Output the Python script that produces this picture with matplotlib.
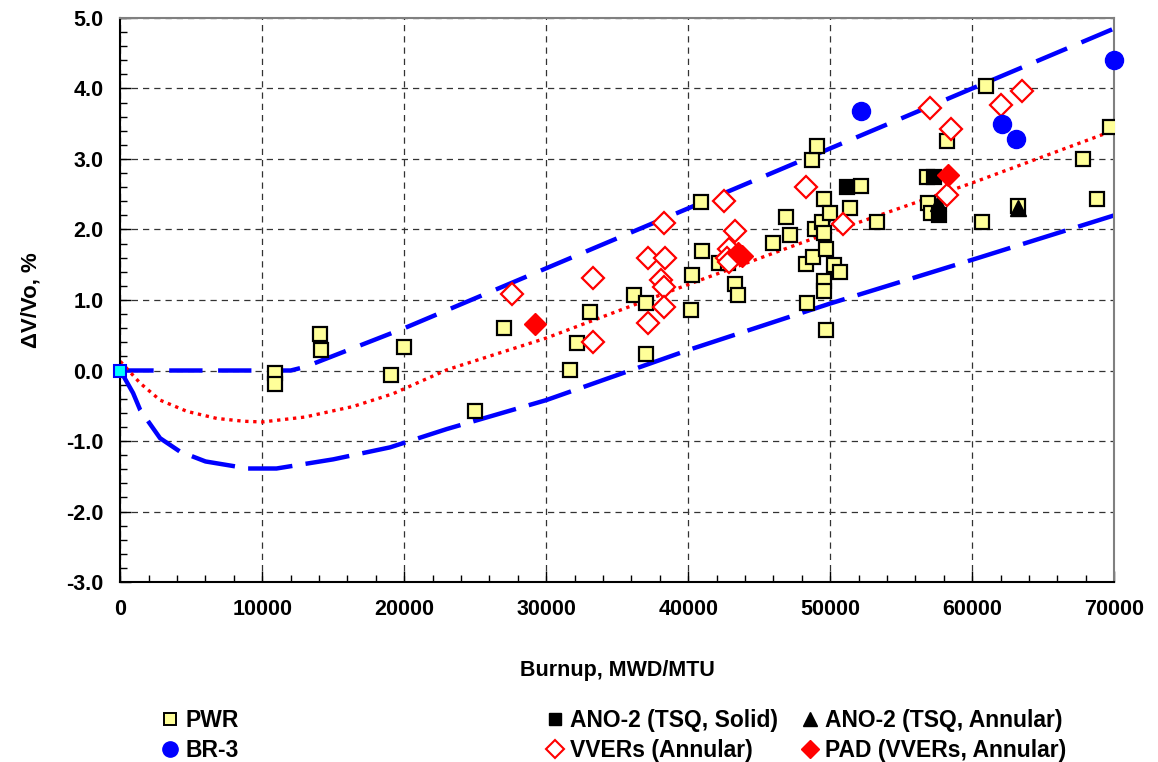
import numpy as np
import matplotlib
matplotlib.use("Agg")
import matplotlib.pyplot as plt
from matplotlib.lines import Line2D
from matplotlib.ticker import MultipleLocator, FuncFormatter

plt.rcParams['font.family'] = ['Liberation Sans', 'DejaVu Sans']

# Measured fuel swelling, burnup (MWD/MTU) vs volume change (%)
pwr_x = [10900, 10900, 14050, 14150, 19100, 20000, 25000, 27000, 31700, 32200,
         33100, 36200, 37000, 37000, 40300, 40200, 40900, 41000, 42200, 42800,
         43300, 43500, 46000, 46900, 47200, 48300, 48400, 48700, 48800, 48900,
         49100, 49400, 49600, 49600, 49700, 49600, 49600, 49700, 50000, 50300,
         50700, 51400, 52200, 53300, 56800, 56900, 57100, 58200, 60700, 61000,
         63200, 67800, 68800, 69700]
pwr_y = [-0.03, -0.19, 0.52, 0.29, -0.07, 0.34, -0.58, 0.60, 0.01, 0.39,
         0.83, 1.07, 0.96, 0.24, 1.35, 0.86, 2.39, 1.69, 1.52, 1.52,
         1.23, 1.07, 1.81, 2.18, 1.92, 1.51, 0.96, 2.98, 1.61, 2.00,
         3.18, 2.11, 2.43, 1.95, 1.72, 1.27, 1.13, 0.57, 2.23, 1.50,
         1.40, 2.31, 2.62, 2.10, 2.74, 2.37, 2.23, 3.26, 2.10, 4.03,
         2.33, 3.00, 2.43, 3.46]

br3_x = [52200, 62100, 63100, 70000]
br3_y = [3.68, 3.49, 3.28, 4.40]

ano_solid_x = [51200, 57300, 57700]
ano_solid_y = [2.60, 2.74, 2.20]

ano_annular_x = [57600, 63200]
ano_annular_y = [2.37, 2.30]

vver_x = [27600, 33300, 33300, 37200, 37200, 38300, 38400, 38100, 38300, 38300,
          42500, 43300, 42900, 42700, 42900, 48300, 50900, 57000, 58200, 58500,
          62000, 63500]
vver_y = [1.08, 1.31, 0.40, 1.59, 0.68, 2.09, 1.59, 1.29, 1.18, 0.90,
          2.40, 1.98, 1.73, 1.60, 1.54, 2.60, 2.08, 3.73, 2.49, 3.43,
          3.76, 3.96]

pad_x = [29200, 43500, 43800, 58300]
pad_y = [0.66, 1.67, 1.62, 2.77]

# Upper / lower bounds and best-fit curve
upper_x = [0, 12000, 13000, 20000, 30000, 40000, 70000]
upper_y = [0.0, 0.0, 0.05, 0.60, 1.45, 2.30, 4.85]

lower_x = [0, 900, 1400, 2800, 4200, 6000, 9000, 11000, 15000, 19000, 23000,
           30000, 40000, 50000, 60000, 70000]
lower_y = [0.0, -0.32, -0.56, -0.96, -1.15, -1.29, -1.39, -1.39, -1.26, -1.09,
           -0.83, -0.42, 0.29, 0.95, 1.57, 2.20]

fit_x = [0, 1400, 2800, 4700, 6800, 8700, 10000, 13000, 16400, 19200, 23000,
         30000, 40000, 50000, 60000, 69500]
fit_y = [0.13, -0.18, -0.42, -0.58, -0.68, -0.72, -0.73, -0.66, -0.51, -0.33,
         0.01, 0.46, 1.22, 1.96, 2.66, 3.37]

x_ticks = [0, 10000, 20000, 30000, 40000, 50000, 60000, 70000]
y_ticks = [-3.0, -2.0, -1.0, 0.0, 1.0, 2.0, 3.0, 4.0, 5.0]

fig = plt.figure(figsize=(11.58, 7.62), dpi=100)
ax = fig.add_axes([0.1039, 0.2362, 0.8582, 0.7402])

ax.plot(upper_x, upper_y, color='#0000ff', lw=3.2, dashes=(7.5, 3.5), zorder=2)
ax.plot(lower_x, lower_y, color='#0000ff', lw=3.2, dashes=(10, 3), zorder=2)
ax.plot(fit_x, fit_y, color='#ff0000', lw=2.4, dashes=(1, 1.4), zorder=2)

sq = dict(marker='s', ms=10, ls='none', mec='black', mew=1.6)
ax.plot(pwr_x, pwr_y, mfc='#ffff99', zorder=3, **sq)
ax.plot(ano_solid_x, ano_solid_y, mfc='black', zorder=4, **sq)
ax.plot(ano_annular_x, ano_annular_y, marker='^', ms=11, ls='none',
        color='black', zorder=4)
ax.plot(vver_x, vver_y, marker='D', ms=11, ls='none', mfc='white',
        mec='#ff0000', mew=1.6, zorder=4)
ax.plot(pad_x, pad_y, marker='D', ms=11, ls='none', color='#ff0000', zorder=5)
ax.plot(br3_x, br3_y, marker='o', ms=13, ls='none', color='#0000ff',
        zorder=5, clip_on=False)
ax.plot([0], [0], marker='s', ms=8, mfc='#00ffff', mec='#0000ff', mew=1.5,
        ls='none', zorder=6, clip_on=False)

ax.set_xlim(0, 70000)
ax.set_ylim(-3.0, 5.0)
ax.set_xticks(x_ticks)
ax.set_yticks(y_ticks)
ax.xaxis.set_minor_locator(MultipleLocator(2000))
ax.yaxis.set_minor_locator(MultipleLocator(0.2))
ax.yaxis.set_major_formatter(FuncFormatter(lambda v, p: f"{v:.1f}"))
ax.tick_params(which='both', direction='in', top=False, right=False,
               labelsize=15.5, width=1, color='black')
ax.tick_params(which='major', length=8, pad=12)
ax.tick_params(which='minor', length=5)
for lab in ax.get_xticklabels() + ax.get_yticklabels():
    lab.set_fontweight('bold')

ax.grid(which='major', color='#333333', lw=0.9, dashes=(5, 4))
ax.set_axisbelow(True)
for side in ('top', 'right'):
    ax.spines[side].set_color('#808080')
    ax.spines[side].set_linewidth(1.5)
for side in ('left', 'bottom'):
    ax.spines[side].set_color('black')
    ax.spines[side].set_linewidth(1.5)

ax.set_xlabel('Burnup, MWD/MTU', fontsize=15.5, fontweight='bold', labelpad=29)
ax.set_ylabel('ΔV/Vo, %', fontsize=16, fontweight='bold', labelpad=18)

# legend laid out in three columns below the axes
h_pwr = Line2D([], [], marker='s', ms=9, ls='none', mfc='#ffff99', mec='black', mew=1.4)
h_br3 = Line2D([], [], marker='o', ms=11, ls='none', color='#0000ff')
h_solid = Line2D([], [], marker='s', ms=9, ls='none', color='black')
h_vver = Line2D([], [], marker='D', ms=9, ls='none', mfc='white', mec='#ff0000', mew=1.5)
h_ann = Line2D([], [], marker='^', ms=10, ls='none', color='black')
h_pad = Line2D([], [], marker='D', ms=9, ls='none', color='#ff0000')

columns = [
    ([h_pwr, h_br3], ['PWR', 'BR-3'], 161),
    ([h_solid, h_vver], ['ANO-2 (TSQ, Solid)', 'VVERs (Annular)'], 546),
    ([h_ann, h_pad], ['ANO-2 (TSQ, Annular)', 'PAD (VVERs, Annular)'], 801),
]
for handles, labels, px in columns:
    fig.legend(handles, labels, loc='upper left',
               bbox_to_anchor=(px / 1158, 1 - 709 / 762),
               frameon=False, borderpad=0, borderaxespad=0,
               handlelength=0.8, handletextpad=0.25, labelspacing=0.32,
               prop={'size': 16.5, 'weight': 'bold'})

fig.savefig('out.png', dpi=100)
